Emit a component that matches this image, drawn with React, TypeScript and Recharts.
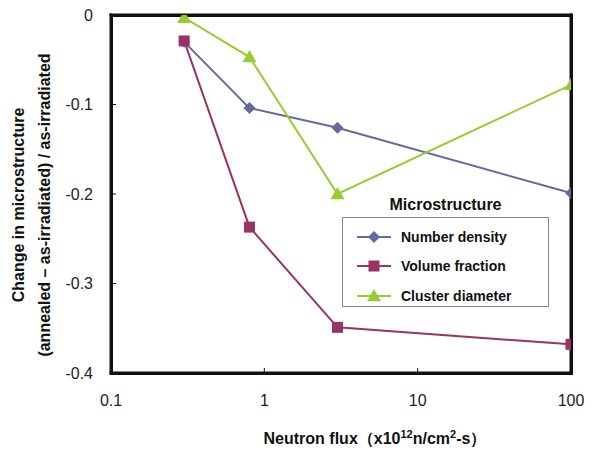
import {
  LineChart,
  Line,
  XAxis,
  YAxis,
  Legend,
  Customized,
} from "recharts";

const flux = [0.3, 0.8, 3, 100];
const numberDensity = [-0.03, -0.104, -0.126, -0.199];
const volumeFraction = [-0.029, -0.237, -0.349, -0.368];
const clusterDiameter = [-0.003, -0.047, -0.2, -0.078];
const xTicks = [0.1, 1, 10, 100];
const yTicks = [-0.4, -0.3, -0.2, -0.1, 0];

const seriesNames = ["Number density", "Volume fraction", "Cluster diameter"];
const colors = ["#6668A0", "#993366", "#99CC33"];

const data = flux.map((f, i) => ({
  flux: f,
  nd: numberDensity[i],
  vf: volumeFraction[i],
  cd: clusterDiameter[i],
}));

const FONT = "'Liberation Sans', Arial, sans-serif";
const INK = "#111";
const W = 592;
const H = 450;
const M = { top: 15, right: 21, bottom: 47, left: 0 };
const Y_W = 111;
const X_H = 30;
const X_MARGIN = 22;
const Y_MARGIN = 18;

// plot box (layout only)
const PX = M.left + Y_W;
const PY = M.top;
const PW = W - M.right - PX;
const PH = H - M.bottom - X_H - PY;

function Marker({ shape, cx, cy, color }: any) {
  if (cx == null || cy == null) return null;
  if (shape === "diamond") {
    const r = 6;
    return (
      <polygon
        points={`${cx},${cy - r} ${cx + r},${cy} ${cx},${cy + r} ${cx - r},${cy}`}
        fill={color}
      />
    );
  }
  if (shape === "square") {
    return <rect x={cx - 5.5} y={cy - 5.5} width={11} height={11} fill={color} />;
  }
  const s = 7;
  return (
    <polygon
      points={`${cx},${cy - s} ${cx + s},${cy + s * 0.75} ${cx - s},${cy + s * 0.75}`}
      fill={color}
    />
  );
}

const shapes = ["diamond", "square", "triangle"];

// tick text plus a small inward tick mark (filled rect)
function XTick({ x, y, payload }: any) {
  const axisY = y - X_MARGIN;
  return (
    <g>
      <rect x={x - 0.5} y={axisY - 5} width={1} height={5} fill={INK} />
      <text x={x} y={y} dy="0.71em" textAnchor="middle" fill="#222" fontSize={16} fontFamily={FONT}>
        {payload.value}
      </text>
    </g>
  );
}

function YTick({ x, y, payload }: any) {
  const axisX = x + Y_MARGIN;
  return (
    <g>
      <rect x={axisX} y={y - 0.5} width={5} height={1} fill={INK} />
      <text x={x} y={y} dy="0.355em" textAnchor="end" fill="#222" fontSize={16} fontFamily={FONT}>
        {payload.value}
      </text>
    </g>
  );
}

function Frame() {
  const t = 3;
  return (
    <g fill={INK}>
      <rect x={PX - t / 2} y={PY - t / 2} width={PW + t} height={t} />
      <rect x={PX - t / 2} y={PY + PH - t / 2} width={PW + t} height={t} />
      <rect x={PX - t / 2} y={PY - t / 2} width={t} height={PH + t} />
      <rect x={PX + PW - t / 2} y={PY - t / 2} width={t} height={PH + t} />
    </g>
  );
}

function Titles() {
  return (
    <g fontFamily={FONT} fontWeight="bold" fontSize={16} fill={INK}>
      <text transform="translate(24,205) rotate(-90)" textAnchor="middle">
        Change in microstructure
      </text>
      <text transform="translate(50,205) rotate(-90)" textAnchor="middle">
        (annealed – as-irradiated) / as-irradiated
      </text>
      <text x={375} y={444} textAnchor="middle">
        Neutron flux（x10
        <tspan fontSize={11} dy={-6}>12</tspan>
        <tspan dy={6}>n/cm</tspan>
        <tspan fontSize={11} dy={-6}>2</tspan>
        <tspan dy={6}>-s）</tspan>
      </text>
    </g>
  );
}

function LegendBox() {
  return (
    <div style={{ fontFamily: FONT, width: 207 }}>
      <div
        style={{
          textAlign: "center",
          fontWeight: "bold",
          fontSize: 16,
          color: INK,
          marginBottom: 3,
        }}
      >
        Microstructure
      </div>
      <div
        style={{
          border: "1.5px solid #888",
          background: "#fff",
          height: 90,
          boxSizing: "border-box",
          paddingTop: 4,
        }}
      >
        {seriesNames.map((name, i) => (
          <div key={name} style={{ display: "flex", alignItems: "center", height: 29.5 }}>
            <svg width={50} height={16}>
              <rect x={14} y={7} width={34} height={2} fill={colors[i]} />
              <Marker shape={shapes[i]} cx={31} cy={8} color={colors[i]} />
            </svg>
            <span style={{ marginLeft: 8, fontWeight: "bold", fontSize: 14, color: INK }}>
              {name}
            </span>
          </div>
        ))}
      </div>
    </div>
  );
}

export default function App() {
  return (
    <div style={{ margin: "-8px 0 0 -8px", width: W, height: H, position: "relative" }}>
      <div
        style={{
          position: "absolute",
          left: PX - 1.5,
          top: PY - 1.5,
          width: PW + 3,
          height: PH + 3,
          border: `3px solid ${INK}`,
          boxSizing: "border-box",
          pointerEvents: "none",
        }}
      />
      <LineChart width={W} height={H} data={data} margin={M}>
        <XAxis
          dataKey="flux"
          type="number"
          scale="log"
          domain={[0.1, 100]}
          ticks={xTicks}
          height={X_H}
          allowDataOverflow
          axisLine={false}
          tickLine={false}
          tickSize={0}
          tickMargin={X_MARGIN}
          tick={<XTick />}
        />
        <YAxis
          type="number"
          domain={[-0.4, 0]}
          ticks={yTicks}
          width={Y_W}
          allowDataOverflow
          axisLine={false}
          tickLine={false}
          tickSize={0}
          tickMargin={Y_MARGIN}
          tick={<YTick />}
        />
        <Customized component={Frame} />
        <Line
          dataKey="nd"
          name={seriesNames[0]}
          stroke={colors[0]}
          strokeWidth={2}
          isAnimationActive={false}
          dot={(p: any) => <Marker key={p.index} shape="diamond" cx={p.cx} cy={p.cy} color={colors[0]} />}
        />
        <Line
          dataKey="vf"
          name={seriesNames[1]}
          stroke={colors[1]}
          strokeWidth={2}
          isAnimationActive={false}
          dot={(p: any) => <Marker key={p.index} shape="square" cx={p.cx} cy={p.cy} color={colors[1]} />}
        />
        <Line
          dataKey="cd"
          name={seriesNames[2]}
          stroke={colors[2]}
          strokeWidth={2}
          isAnimationActive={false}
          dot={(p: any) => <Marker key={p.index} shape="triangle" cx={p.cx} cy={p.cy} color={colors[2]} />}
        />
        <Customized component={Titles} />
        <Legend
          layout="vertical"
          verticalAlign="middle"
          align="center"
          content={() => <LegendBox />}
          wrapperStyle={{ position: "absolute", left: 342, top: 196, width: 207 }}
        />
      </LineChart>
    </div>
  );
}
